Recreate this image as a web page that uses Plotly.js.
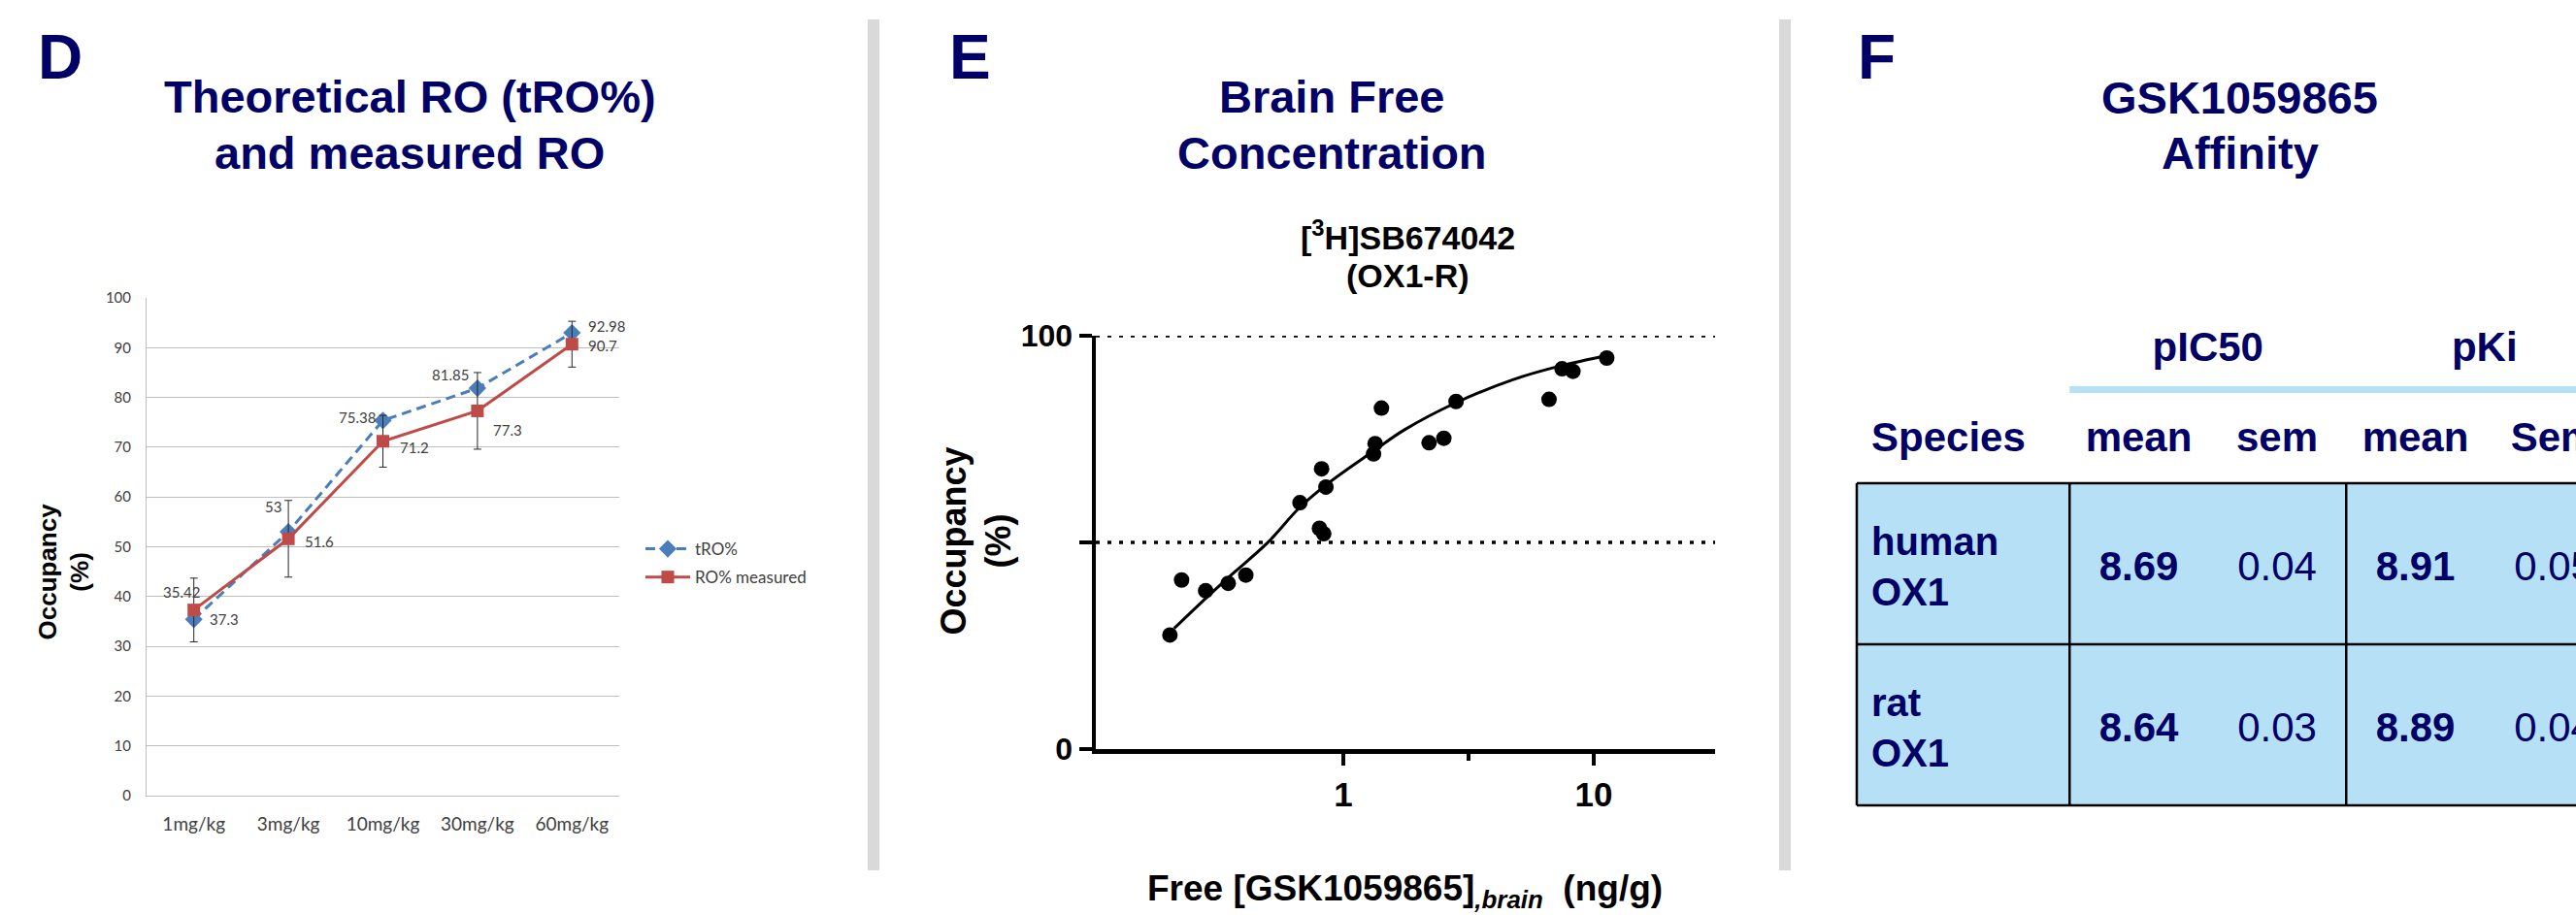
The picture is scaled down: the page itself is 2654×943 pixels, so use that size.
<!DOCTYPE html>
<html><head><meta charset="utf-8">
<script src="https://cdn.plot.ly/plotly-3.0.1.min.js"></script>
<style>html,body{margin:0;padding:0;background:#fff;overflow:hidden}#chart{width:2654px;height:943px}</style>
</head><body><div id="chart"></div>
<script>
// ---------- Panel D data ----------
const doses = ['1mg/kg', '3mg/kg', '10mg/kg', '30mg/kg', '60mg/kg'];
const tRO = [35.42, 53, 75.38, 81.85, 92.98];
const roMeasured = [37.3, 51.6, 71.2, 77.3, 90.7];
const roError = [6.4, 7.7, 5.2, 7.7, 4.6];

// ---------- Panel E data ----------
const freeConc = [0.203, 0.226, 0.282, 0.347, 0.408, 0.671, 0.803, 0.835, 0.819, 0.852,
                  1.32, 1.34, 1.42, 2.20, 2.52, 2.82, 6.63, 7.47, 8.26, 11.27];
const occupancy = [27.6, 40.9, 38.3, 40.1, 42.1, 59.6, 53.4, 52.1, 67.8, 63.4,
                   71.4, 73.9, 82.5, 74.1, 75.2, 84.1, 84.6, 92.0, 91.4, 94.6];
const fitConc = [0.211, 0.279, 0.355, 0.498, 0.671, 0.887, 1.32, 1.75, 2.82, 4.72, 7.47, 11.3];
const fitOcc = [29.2, 36.2, 42.0, 49.9, 58.5, 64.7, 72.1, 77.2, 83.8, 89.3, 92.8, 95.2];
const eYTicks = [0, 100];
const eYTickText = ['0', '100'];
const eYMinorTicks = [50];
const eXTicks = [1, 10];
const eXTickText = ['1', '10'];
const eXMinorTicks = [3.162];
const eRefLevels = [50, 100];

// ---------- Panel F data ----------
const speciesNames = ['human<br>OX1', 'rat<br>OX1'];
const pic50Mean = ['8.69', '8.64'];
const pic50Sem = ['0.04', '0.03'];
const pkiMean = ['8.91', '8.89'];
const pkiSem = ['0.05', '0.04'];
const speciesHeader = 'Species';
const columnHeaders = ['mean', 'sem', 'mean', 'Sem'];
const groupHeaders = ['pIC50', 'pKi'];

// ---------- layout helpers (pixel geometry of the page) ----------
const W = 2654, H = 943;
const px2x = p => p / W;
const px2y = p => 1 - p / H;
const NAVY = '#000066';
const ARIAL = 'Liberation Sans, Arial, sans-serif';
const LATO = 'Lato, sans-serif';

// panel E log axis geometry
const eOnePx = 1384, eDecadePx = 258, eLeft = 1129, eRight = 1767;
const eXRange = [(eLeft - eOnePx) / eDecadePx, (eRight - eOnePx) / eDecadePx];

// panel F table geometry
const colUnit = 142.5, col0 = 2203.5, rowUnit = 166, row0 = 581;
const fx = p => (p - col0) / colUnit;
const fy = p => (p - row0) / rowUnit;
const textDy = 0.04;

// ---------- traces ----------
const traces = [];
traces.push({
  x: doses, y: tRO, name: 'tRO%', type: 'scatter', mode: 'lines+markers',
  xaxis: 'x', yaxis: 'y', legendgroup: 'a',
  line: {color: '#4a7ebb', width: 3, dash: '10px,6px'},
  marker: {symbol: 'diamond', size: 14, color: '#4a7ebb'}
});
traces.push({
  x: doses, y: roMeasured, name: 'RO% measured', type: 'scatter', mode: 'lines+markers',
  xaxis: 'x', yaxis: 'y', legendgroup: 'b',
  line: {color: '#be4b48', width: 3},
  marker: {symbol: 'square', size: 13, color: '#be4b48'},
  error_y: {type: 'data', array: roError, visible: true, color: '#262626', thickness: 1, width: 4}
});
traces.push({
  x: fitConc, y: fitOcc, type: 'scatter', mode: 'lines', xaxis: 'x2', yaxis: 'y2',
  showlegend: false, line: {color: '#000', width: 3, shape: 'spline', smoothing: 1}
});
traces.push({
  x: freeConc, y: occupancy, type: 'scatter', mode: 'markers', xaxis: 'x2', yaxis: 'y2',
  showlegend: false, marker: {color: '#000', size: 16}
});

// Panel F text cells
const rowIdx = speciesNames.map((_, i) => i + textDy);
const bold42 = {family: ARIAL, size: 42, color: NAVY, weight: 'bold'};
const norm42 = {family: ARIAL, size: 42, color: NAVY, weight: 'normal'};
function textTrace(x, y, text, font, pos) {
  return {x: x, y: y, text: text, type: 'scatter', mode: 'text', xaxis: 'x3', yaxis: 'y3',
          showlegend: false, textposition: pos || 'middle center', textfont: font, cliponaxis: true};
}
traces.push(textTrace(speciesNames.map(() => fx(1928)), rowIdx, speciesNames,
  {family: ARIAL, size: 40, color: NAVY, weight: 'bold'}, 'middle right'));
[[pic50Mean, bold42], [pic50Sem, norm42], [pkiMean, bold42], [pkiSem, norm42]].forEach((c, ci) => {
  traces.push(textTrace(c[0].map(() => ci), rowIdx, c[0], c[1]));
});
traces.push(textTrace([fx(1928)], [fy(454.5)], [speciesHeader], bold42, 'middle right'));
traces.push(textTrace(columnHeaders.map((_, i) => i), columnHeaders.map(() => fy(454.5)), columnHeaders, bold42));
traces.push(textTrace(groupHeaders.map((_, i) => 2 * i + 0.5), groupHeaders.map(() => fy(361.5)), groupHeaders, bold42));

// ---------- shapes ----------
const shapes = [];
[[894, 906], [1833, 1845]].forEach(s => shapes.push({
  type: 'rect', xref: 'paper', yref: 'paper', x0: px2x(s[0]), x1: px2x(s[1]),
  y0: px2y(897), y1: px2y(20), fillcolor: '#d9d9d9', line: {width: 0}, layer: 'below'
}));
eRefLevels.forEach(v => shapes.push({
  type: 'line', xref: 'x2 domain', yref: 'y2', x0: 0, x1: 1, y0: v, y1: v,
  line: {color: '#000', width: 3.5, dash: '4px,8px'}, layer: 'below'
}));
// table
const tLeft = fx(1913), tRight = 4;
shapes.push({type: 'rect', xref: 'x3', yref: 'y3', x0: tLeft, x1: tRight, y0: -0.5, y1: speciesNames.length - 0.5,
  fillcolor: '#b6e0f5', line: {width: 0}, layer: 'below'});
for (let r = 0; r <= speciesNames.length; r++) {
  shapes.push({type: 'line', xref: 'x3', yref: 'y3', x0: tLeft, x1: tRight, y0: r - 0.5, y1: r - 0.5,
    line: {color: '#000', width: 2.5}, layer: 'below'});
}
[tLeft, -0.5, 1.5, 3.5].forEach(xv => shapes.push({type: 'line', xref: 'x3', yref: 'y3', x0: xv, x1: xv,
  y0: -0.5, y1: speciesNames.length - 0.5, line: {color: '#000', width: 2.5}, layer: 'below'}));
shapes.push({type: 'line', xref: 'x3', yref: 'y3', x0: -0.5, x1: tRight, y0: fy(401.5), y1: fy(401.5),
  line: {color: '#b6e0f5', width: 7}, layer: 'below'});

// ---------- annotations ----------
const ann = [];
function pAnn(text, x, y, font, extra) {
  return Object.assign({text: text, x: px2x(x), y: px2y(y), xref: 'paper', yref: 'paper',
    showarrow: false, xanchor: 'center', yanchor: 'middle', font: font}, extra || {});
}
const letterFont = {family: ARIAL, size: 64, color: NAVY, weight: 'bold'};
const titleFont = {family: ARIAL, size: 47, color: NAVY, weight: 'bold'};
ann.push(pAnn('D', 62, 59.5, letterFont));
ann.push(pAnn('E', 999, 59.5, letterFont));
ann.push(pAnn('F', 1933, 59.5, letterFont));
ann.push(pAnn('Theoretical RO (tRO%)', 422, 99.5, titleFont));
ann.push(pAnn('and measured RO', 422, 157.5, titleFont));
ann.push(pAnn('Brain Free', 1372, 99.5, titleFont));
ann.push(pAnn('Concentration', 1372, 157.5, titleFont));
ann.push(pAnn('GSK1059865', 2307, 100, titleFont));
ann.push(pAnn('Affinity', 2308, 157.5, titleFont));
const subFont = {family: ARIAL, size: 34, color: '#000', weight: 'bold'};
ann.push(pAnn('[<sup>3</sup>H]SB674042', 1450, 242, subFont));
ann.push(pAnn('(OX1-R)', 1450, 283.5, subFont));
ann.push(pAnn('Free [GSK1059865]<sub><i>,brain</i></sub>\u00a0\u00a0(ng/g)', 1447, 918,
  {family: ARIAL, size: 37, color: '#000', weight: 'bold'}));
ann.push(pAnn('Occupancy<br>(%)', 1005.5, 558, {family: ARIAL, size: 36, color: '#000', weight: 'bold'}, {textangle: -90}));
ann.push(pAnn('Occupancy<br>(%)', 65.5, 589, {family: ARIAL, size: 26, color: '#000', weight: 'bold'}, {textangle: -90}));

// data labels of panel D (offsets are label styling, in px)
const tROLabelShift = [[-13, -28], [-16, -26], [-27, -3], [-28, -14], [36, -7]];
const roLabelShift = [[31, 9], [32, 3], [32, 6], [31, 20], [32, 1]];
const lblFont = {family: LATO, size: 15, color: '#404040'};
doses.forEach((d, i) => {
  ann.push({x: d, y: tRO[i], xref: 'x', yref: 'y', text: String(tRO[i]), showarrow: false,
    xshift: tROLabelShift[i][0], yshift: -tROLabelShift[i][1], font: lblFont});
  ann.push({x: d, y: roMeasured[i], xref: 'x', yref: 'y', text: String(roMeasured[i]), showarrow: false,
    xshift: roLabelShift[i][0], yshift: -roLabelShift[i][1], font: lblFont});
});

// ---------- layout ----------
const layout = {
  width: W, height: H, margin: {l: 0, r: 0, t: 0, b: 0},
  paper_bgcolor: '#fff', plot_bgcolor: 'rgba(0,0,0,0)',
  font: {family: ARIAL},
  showlegend: true,
  legend: {x: px2x(660), y: px2y(548), xanchor: 'left', yanchor: 'top',
    font: {family: LATO, size: 17, color: '#404040'}, bgcolor: 'rgba(0,0,0,0)',
    itemwidth: 46, traceorder: 'grouped', tracegroupgap: 4},
  xaxis: {domain: [px2x(151), px2x(638)], anchor: 'y', type: 'category', range: [-0.5, 4.5],
    showline: true, linecolor: '#bfbfbf', linewidth: 1, showgrid: false, ticks: '', zeroline: false,
    tickfont: {family: LATO, size: 19, color: '#404040'}, ticklabelstandoff: 12},
  yaxis: {domain: [px2y(820), px2y(307)], anchor: 'x', range: [0, 100], dtick: 10, tick0: 0,
    showgrid: true, gridcolor: '#bfbfbf', gridwidth: 1, showline: true, linecolor: '#bfbfbf',
    linewidth: 1, zeroline: false, ticks: '', tickfont: {family: LATO, size: 15, color: '#404040'},
    ticklabelstandoff: 12},
  xaxis2: {domain: [px2x(eLeft), px2x(eRight)], anchor: 'y2', type: 'log', range: eXRange,
    tickmode: 'array', tickvals: eXTicks, ticktext: eXTickText, ticks: 'outside', ticklen: 12,
    tickwidth: 4.5, tickcolor: '#000', showline: true, linewidth: 4.5, linecolor: '#000',
    showgrid: false, zeroline: false,
    tickfont: {family: ARIAL, size: 35, color: '#000', weight: 'bold'},
    minor: {tickmode: 'array', tickvals: eXMinorTicks, ticks: 'outside', ticklen: 7, tickwidth: 4,
      tickcolor: '#000', showgrid: false}},
  yaxis2: {domain: [px2y(772), px2y(346)], anchor: 'x2', range: [0, 100],
    tickmode: 'array', tickvals: eYTicks, ticktext: eYTickText, ticks: 'outside', ticklen: 13,
    tickwidth: 4.5, tickcolor: '#000', showline: true, linewidth: 4.5, linecolor: '#000',
    showgrid: false, zeroline: false,
    tickfont: {family: ARIAL, size: 32, color: '#000', weight: 'bold'},
    minor: {tickmode: 'array', tickvals: eYMinorTicks, ticks: 'outside', ticklen: 13, tickwidth: 4.5,
      tickcolor: '#000', showgrid: false}},
  xaxis3: {domain: [px2x(1900), 1], anchor: 'y3', range: [fx(1900), fx(W)], visible: false, fixedrange: true},
  yaxis3: {domain: [px2y(880), px2y(320)], anchor: 'x3', range: [fy(880), fy(320)], visible: false, fixedrange: true},
  shapes: shapes,
  annotations: ann
};

Plotly.newPlot('chart', traces, layout, {staticPlot: true, displayModeBar: false});
</script>
</body></html>
